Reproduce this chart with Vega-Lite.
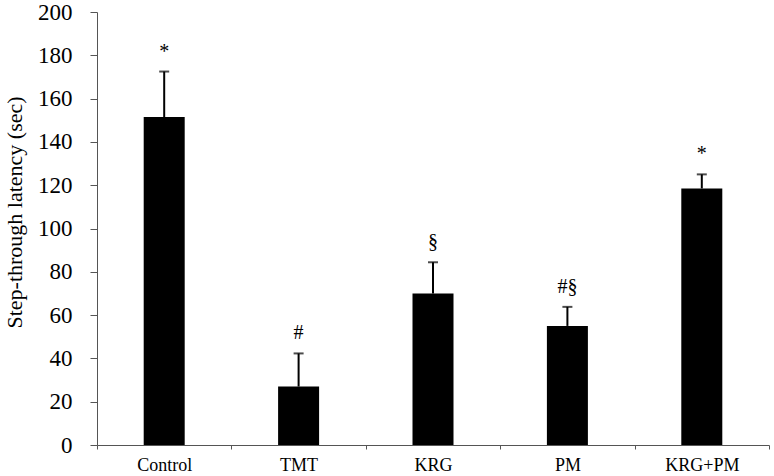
{
  "$schema": "https://vega.github.io/schema/vega-lite/v6.json",
  "width": 672,
  "height": 433,
  "autosize": "none",
  "padding": {"left": 97, "top": 12, "right": 5, "bottom": 31},
  "background": "white",
  "config": {"view": {"stroke": null}, "font": "Liberation Serif"},
  "data": {"values": [
    {"group": "Control", "value": 151.5, "err": 172.5, "sig": "*"},
    {"group": "TMT", "value": 27, "err": 42.3, "sig": "#"},
    {"group": "KRG", "value": 70, "err": 84.4, "sig": "§"},
    {"group": "PM", "value": 55, "err": 63.8, "sig": "#§"},
    {"group": "KRG+PM", "value": 118.5, "err": 125, "sig": "*"}
  ]},
  "encoding": {
    "x": {
      "field": "group", "type": "nominal", "sort": null,
      "scale": {"paddingInner": 0, "paddingOuter": 0},
      "axis": {
        "title": null, "labelAngle": 0, "labelFontSize": 18, "labelColor": "#000",
        "labelPadding": 7, "tickBand": "extent", "tickSize": 4, "tickColor": "#555",
        "domainColor": "#555", "grid": false, "labelFont": "Liberation Serif"
      }
    }
  },
  "layer": [
    {
      "mark": {"type": "bar", "color": "#000", "size": 41},
      "encoding": {
        "y": {
          "field": "value", "type": "quantitative",
          "scale": {"domain": [0, 200], "nice": false},
          "axis": {
            "title": "Step-through latency (sec)", "titleFontSize": 22, "titleFontWeight": "normal",
            "titleColor": "#000", "titlePadding": 11, "titleFont": "Liberation Serif", "titleY": 200,
            "values": [0, 20, 40, 60, 80, 100, 120, 140, 160, 180, 200],
            "labelFontSize": 23, "labelColor": "#000", "labelPadding": 18, "labelFont": "Liberation Serif",
            "tickSize": 7, "tickColor": "#555", "domainColor": "#555", "grid": false
          }
        }
      }
    },
    {
      "mark": {"type": "rule", "color": "#000", "strokeWidth": 2},
      "encoding": {"y": {"field": "value", "type": "quantitative"}, "y2": {"field": "err"}}
    },
    {
      "mark": {"type": "tick", "color": "#000", "size": 10, "thickness": 2, "orient": "horizontal"},
      "encoding": {"y": {"field": "err", "type": "quantitative"}}
    },
    {
      "mark": {"type": "text", "dy": -20, "baseline": "middle", "fontSize": 20, "color": "#000", "font": "Liberation Serif"},
      "encoding": {"y": {"field": "err", "type": "quantitative"}, "text": {"field": "sig"}}
    }
  ]
}
